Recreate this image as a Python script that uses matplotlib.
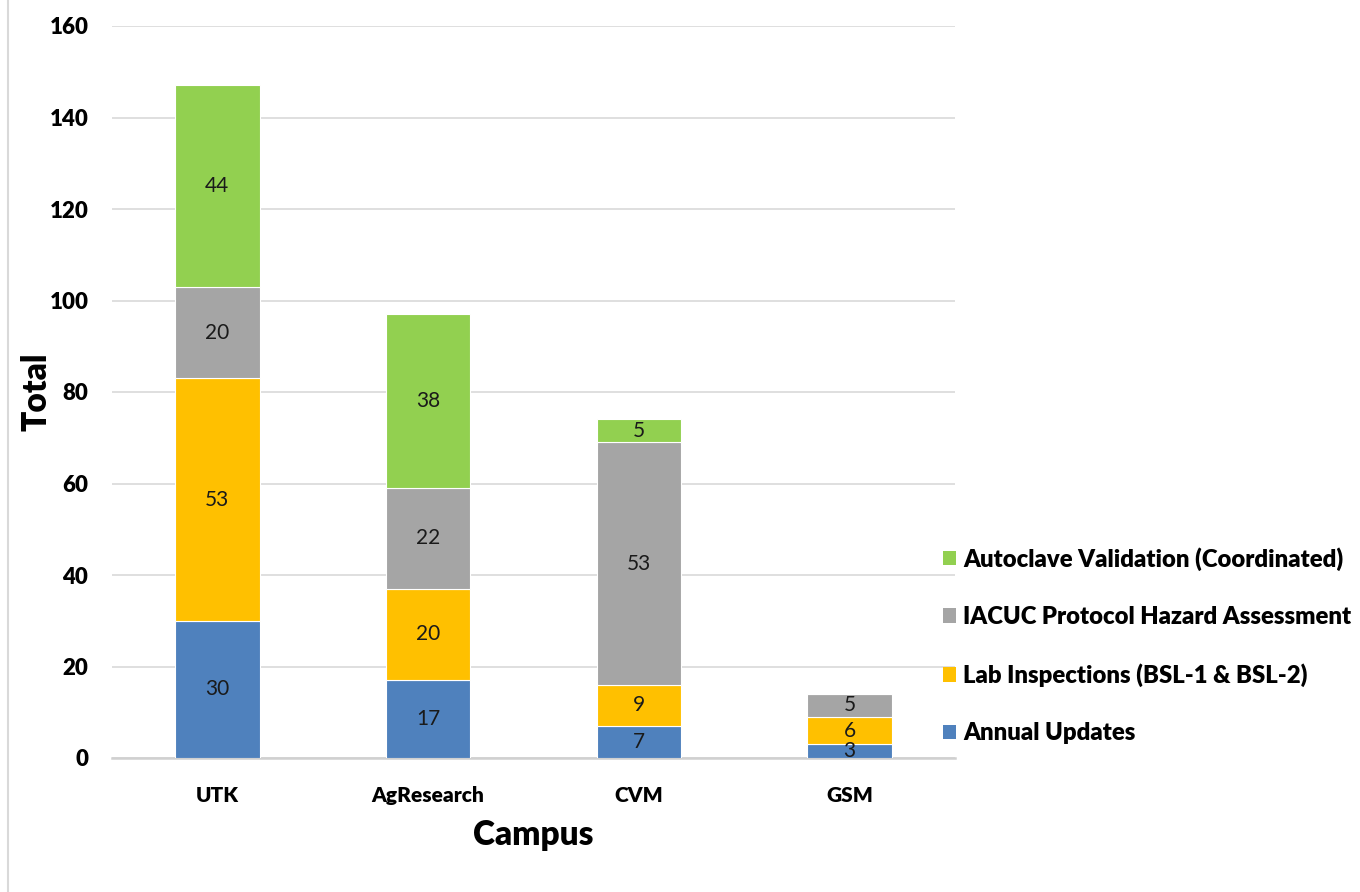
import matplotlib
matplotlib.use("Agg")
import matplotlib.pyplot as plt
from matplotlib.patches import Patch
from matplotlib.lines import Line2D
import numpy as np

campuses = ["UTK", "AgResearch", "CVM", "GSM"]
annual_updates = [30, 17, 7, 3]
lab_inspections = [53, 20, 9, 6]
iacuc = [20, 22, 53, 5]
autoclave = [44, 38, 5, 0]

series_names = ["Annual Updates", "Lab Inspections (BSL-1 & BSL-2)",
                "IACUC Protocol Hazard Assessment", "Autoclave Validation (Coordinated)"]
series_vals = [annual_updates, lab_inspections, iacuc, autoclave]
colors = ["#4F81BD", "#FFC000", "#A5A5A5", "#92D050"]

FONT = ["Lato", "DejaVu Sans"]
plt.rcParams['font.family'] = FONT
BOLD = 800

W, H = 1360, 892
fig = plt.figure(figsize=(W/100, H/100), dpi=100)
ax = fig.add_axes([112/W, 1-758/H, 843/W, 732/H])

x = np.arange(len(campuses))
bottom = np.zeros(len(campuses))
handles = []
for name, vals, c in zip(series_names, series_vals, colors):
    vals = np.array(vals, dtype=float)
    ax.bar(x, vals, 0.4, bottom=bottom, color=c, edgecolor="white",
           linewidth=0.8, zorder=3)
    for xi, b, v in zip(x, bottom, vals):
        if v > 0:
            ax.text(xi, b + v/2, f"{int(v)}", ha="center", va="center",
                    fontsize=15, color="#1a1a1a", zorder=4)
    bottom += vals
    handles.append(Patch(facecolor=c, edgecolor="none", label=name))

ax.set_xlim(-0.5, 3.5)
ax.set_ylim(0, 160)
ax.set_yticks(np.arange(0, 161, 20))
ax.yaxis.grid(True, color="#D9D9D9", linewidth=1.2, zorder=0)
ax.set_axisbelow(True)
for s in ["left", "right", "top"]:
    ax.spines[s].set_visible(False)
ax.spines["bottom"].set_color("#D0D0D0")
ax.spines["bottom"].set_linewidth(1.8)
ax.tick_params(axis="both", length=0)
ax.set_xticks(x)
ax.set_xticklabels(campuses, fontsize=15, fontweight=BOLD)
ax.tick_params(axis="x", pad=20)
ax.tick_params(axis="y", pad=17)
for lab in ax.get_yticklabels():
    lab.set_fontsize(16)
    lab.set_fontweight(BOLD)
ax.set_xlabel("Campus", fontsize=24, fontweight=BOLD, labelpad=10)
ax.set_ylabel("Total", fontsize=24, fontweight=BOLD, labelpad=-2)

leg = fig.legend(handles=handles[::-1], loc="upper left",
                 bbox_to_anchor=(943/W, 1-547/H), frameon=False,
                 prop={"family": FONT, "weight": BOLD, "size": 17.2},
                 handlelength=0.54, handleheight=0.54, handletextpad=0.3,
                 labelspacing=1.48, borderaxespad=0, borderpad=0)

fig.add_artist(Line2D([7.5/W, 7.5/W], [0, 1], color="#D9D9D9", linewidth=1.5,
                      transform=fig.transFigure))

fig.savefig("out.png", dpi=100, facecolor="white")
